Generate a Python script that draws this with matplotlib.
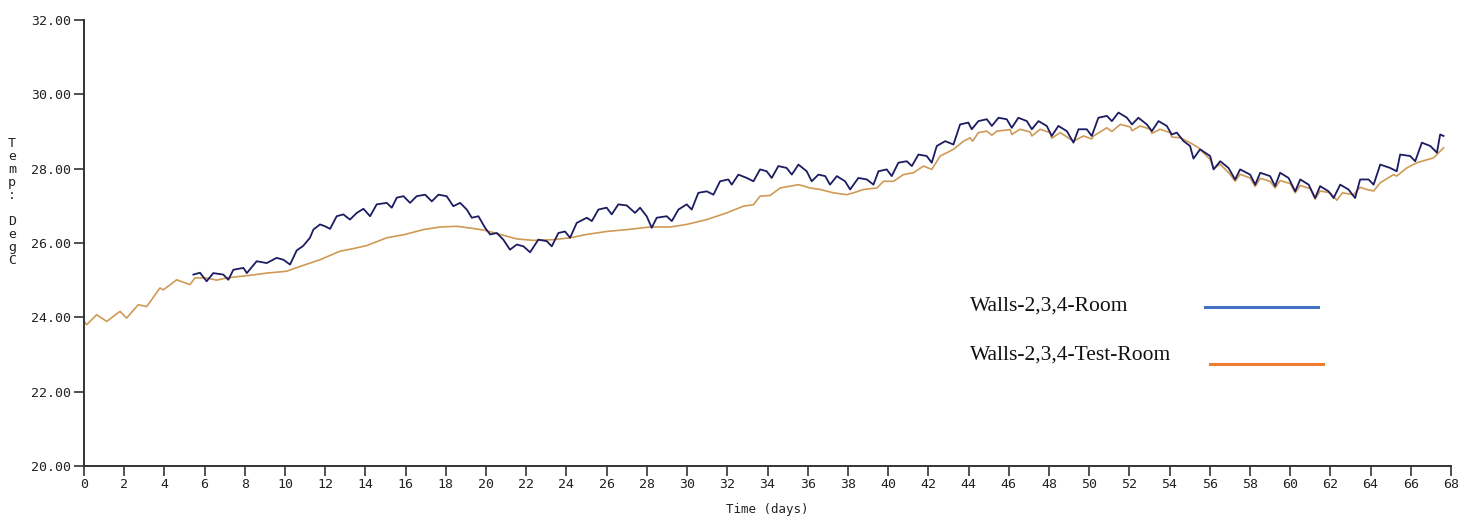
#!/usr/bin/env python3
"""Room air temperature over 68 days for two wall configurations."""

import matplotlib
matplotlib.use("Agg")
import matplotlib.pyplot as plt
from matplotlib.lines import Line2D

# Walls-2,3,4 room (logged from about day 5.4 onwards)
room_days = [
    5.44, 5.77, 6.10, 6.43, 6.93, 7.18, 7.43, 7.93, 8.10, 8.59, 9.09, 9.58, 9.92,
    10.25, 10.58, 10.90, 11.24, 11.41, 11.74, 11.99, 12.24, 12.57, 12.90, 13.23,
    13.57, 13.90, 14.23, 14.56, 15.06, 15.31, 15.56, 15.89, 16.22, 16.55, 16.97,
    17.30, 17.63, 18.04, 18.37, 18.71, 19.04, 19.29, 19.62, 19.95, 20.20, 20.53,
    20.86, 21.19, 21.53, 21.86, 22.19, 22.60, 23.02, 23.27, 23.60, 23.93, 24.18,
    24.51, 25.01, 25.26, 25.59, 26.00, 26.25, 26.58, 27.00, 27.41, 27.66, 27.99,
    28.24, 28.49, 28.99, 29.24, 29.57, 29.98, 30.23, 30.56, 30.98, 31.31, 31.64,
    32.05, 32.22, 32.55, 32.97, 33.30, 33.63, 33.96, 34.21, 34.54, 34.95, 35.21,
    35.54, 35.95, 36.20, 36.53, 36.87, 37.11, 37.45, 37.86, 38.11, 38.52, 38.94,
    39.27, 39.52, 39.93, 40.18, 40.51, 40.93, 41.18, 41.51, 41.92, 42.17, 42.42,
    42.84, 43.25, 43.58, 43.99, 44.16, 44.49, 44.91, 45.16, 45.49, 45.90, 46.15,
    46.48, 46.90, 47.15, 47.48, 47.89, 48.14, 48.47, 48.89, 49.22, 49.47, 49.88,
    50.13, 50.46, 50.88, 51.13, 51.46, 51.88, 52.13, 52.45, 52.87, 53.12, 53.45,
    53.86, 54.11, 54.36, 54.70, 55.02, 55.19, 55.52, 56.02, 56.19, 56.52, 56.93,
    57.26, 57.51, 58.01, 58.26, 58.51, 59.00, 59.25, 59.50, 59.92, 60.25, 60.50,
    60.92, 61.24, 61.49, 61.91, 62.16, 62.49, 62.90, 63.23, 63.48, 63.90, 64.15,
    64.48, 64.97, 65.30, 65.47, 65.97, 66.22, 66.55, 66.97, 67.30, 67.46, 67.63,
]
room_temp = [
    25.15, 25.20, 24.97, 25.19, 25.15, 25.01, 25.28, 25.33, 25.19, 25.51, 25.46, 25.60, 25.55,
    25.42, 25.80, 25.92, 26.14, 26.36, 26.50, 26.45, 26.38, 26.72, 26.77, 26.63,
    26.81, 26.92, 26.72, 27.04, 27.08, 26.95, 27.22, 27.26, 27.08, 27.26, 27.30,
    27.12, 27.30, 27.26, 26.99, 27.08, 26.90, 26.68, 26.72, 26.41, 26.23, 26.27,
    26.09, 25.82, 25.96, 25.91, 25.75, 26.09, 26.05, 25.91, 26.27, 26.31, 26.14,
    26.54, 26.68, 26.59, 26.90, 26.95, 26.77, 27.04, 27.01, 26.81, 26.95, 26.72,
    26.41, 26.68, 26.72, 26.59, 26.90, 27.04, 26.90, 27.35, 27.39, 27.30, 27.66,
    27.71, 27.57, 27.84, 27.75, 27.66, 27.98, 27.93, 27.75, 28.07, 28.02, 27.84,
    28.11, 27.93, 27.66, 27.84, 27.80, 27.57, 27.80, 27.66, 27.44, 27.75, 27.71,
    27.57, 27.93, 27.98, 27.80, 28.16, 28.20, 28.07, 28.38, 28.34, 28.16, 28.61,
    28.74, 28.65, 29.19, 29.24, 29.06, 29.28, 29.33, 29.15, 29.37, 29.33, 29.10,
    29.37, 29.28, 29.06, 29.28, 29.15, 28.88, 29.15, 29.01, 28.70, 29.06, 29.06,
    28.88, 29.37, 29.42, 29.28, 29.51, 29.37, 29.19, 29.37, 29.19, 29.01, 29.28,
    29.15, 28.92, 28.97, 28.74, 28.61, 28.27, 28.52, 28.34, 27.98, 28.20, 28.02,
    27.71, 27.98, 27.84, 27.57, 27.89, 27.80, 27.53, 27.89, 27.75, 27.39, 27.71,
    27.57, 27.21, 27.53, 27.39, 27.21, 27.57, 27.44, 27.21, 27.71, 27.71, 27.57,
    28.11, 28.02, 27.93, 28.38, 28.34, 28.20, 28.70, 28.61, 28.43, 28.92, 28.88,
]

# Walls-2,3,4 test room
test_days = [
    0.00, 0.13, 0.63, 1.13, 1.79, 2.12, 2.70, 3.12, 3.78, 3.95, 4.61, 5.27, 5.52,
    6.10, 6.60, 7.10, 7.76, 8.40, 9.09, 10.08, 10.75, 11.74, 12.74, 13.40, 14.06,
    15.06, 15.97, 16.88, 17.71, 18.54, 19.37, 19.95, 20.70, 21.53, 22.35, 23.35,
    24.18, 25.00, 26.00, 27.00, 28.16, 29.16, 29.98, 30.98, 31.97, 32.80, 33.30,
    33.63, 34.13, 34.63, 35.54, 36.12, 36.62, 37.28, 37.94, 38.28, 38.77, 39.44,
    39.77, 40.27, 40.76, 41.26, 41.76, 42.17, 42.59, 43.25, 43.75, 44.08, 44.20,
    44.49, 44.91, 45.16, 45.41, 46.07, 46.15, 46.56, 47.06, 47.15, 47.56, 48.06,
    48.14, 48.56, 49.22, 49.72, 50.13, 50.22, 50.88, 51.13, 51.55, 52.05, 52.13,
    52.54, 53.04, 53.12, 53.53, 54.03, 54.11, 54.53, 55.02, 55.44, 56.02, 56.19,
    56.52, 57.01, 57.26, 57.51, 58.01, 58.26, 58.51, 59.00, 59.25, 59.50, 60.00,
    60.25, 60.50, 61.00, 61.24, 61.49, 61.99, 62.32, 62.60, 63.15, 63.48, 63.81,
    64.15, 64.48, 65.14, 65.30, 65.80, 66.30, 67.13, 67.63,
]
test_temp = [
    23.90, 23.80, 24.07, 23.89, 24.16, 23.98, 24.34, 24.29, 24.79, 24.74, 25.01, 24.88, 25.06,
    25.06, 25.00, 25.06, 25.10, 25.14, 25.19, 25.24, 25.37, 25.55, 25.78, 25.85, 25.93,
    26.14, 26.23, 26.36, 26.43, 26.45, 26.39, 26.34, 26.23, 26.11, 26.07, 26.09,
    26.14, 26.23, 26.31, 26.36, 26.43, 26.43, 26.50, 26.63, 26.81, 26.99, 27.03,
    27.26, 27.28, 27.48, 27.57, 27.48, 27.44, 27.35, 27.30, 27.35, 27.44, 27.48,
    27.66, 27.66, 27.84, 27.89, 28.07, 27.98, 28.34, 28.52, 28.74, 28.83, 28.74,
    28.97, 29.01, 28.90, 29.01, 29.05, 28.92, 29.06, 28.99, 28.88, 29.06, 28.97,
    28.82, 28.97, 28.74, 28.88, 28.80, 28.88, 29.10, 29.00, 29.19, 29.12, 29.02,
    29.15, 29.06, 28.95, 29.06, 28.97, 28.85, 28.83, 28.70, 28.56, 28.25, 28.00,
    28.12, 27.85, 27.66, 27.85, 27.75, 27.52, 27.74, 27.66, 27.48, 27.68, 27.60,
    27.35, 27.55, 27.46, 27.18, 27.40, 27.35, 27.15, 27.35, 27.30, 27.50, 27.44,
    27.40, 27.62, 27.84, 27.80, 28.02, 28.16, 28.29, 28.56,
]

x_ticks = list(range(0, 69, 2))
y_ticks = [20, 22, 24, 26, 28, 30, 32]
series_names = ["Walls-2,3,4-Room", "Walls-2,3,4-Test-Room"]

MONO = "DejaVu Sans Mono"
INK = "#333333"


def draw_key(fig):
    """Hand-placed key: serif label followed by a short coloured bar."""
    key_colors = ["#4472c4", "#ed7d31"]
    rows = [(306, 307, 1205, 1318), (355, 364, 1210, 1323)]
    W, H = fig.get_size_inches() * fig.dpi
    for name, color, (ty, ly, x0, x1) in zip(series_names, key_colors, rows):
        fig.text(970 / W, 1 - ty / H, name, family="Liberation Serif",
                 fontsize=15.5, va="center", ha="left", color="#111111")
        fig.add_artist(Line2D([x0 / W, x1 / W], [1 - ly / H, 1 - ly / H],
                              transform=fig.transFigure, color=color, lw=2.2))


def main() -> None:
    fig = plt.figure(figsize=(14.74, 5.28), dpi=100)
    ax = fig.add_axes([84 / 1474, 62 / 528, (1451 - 84) / 1474, (466 - 20) / 528])

    ax.plot(test_days, test_temp, color="#cf9a55", lw=1.2)
    ax.plot(room_days, room_temp, color="#1c1c62", lw=1.3)

    ax.set_xlim(0, 68)
    ax.set_ylim(20, 32)
    ax.set_xticks(x_ticks)
    ax.set_yticks(y_ticks)
    ax.set_xticklabels([str(d) for d in x_ticks], family=MONO, fontsize=9.5, color="#222222")
    ax.set_yticklabels([f"{v:.2f}" for v in y_ticks], family=MONO, fontsize=9.5, color="#222222")
    ax.tick_params(axis="both", direction="out", length=7, width=1.2, color=INK, pad=2)

    for side in ("top", "right"):
        ax.spines[side].set_visible(False)
    for side in ("left", "bottom"):
        ax.spines[side].set_color(INK)
        ax.spines[side].set_linewidth(1.4)

    ax.set_xlabel("Time (days)", family=MONO, fontsize=9, color="#222222", labelpad=8)
    fig.text(12 / 1474, 1 - 202 / 528, "\n".join("Temp: DegC"), family=MONO,
             fontsize=9.5, color="#222222", ha="center", va="center", linespacing=1.0)

    draw_key(fig)
    fig.savefig("out.png", dpi=100)


if __name__ == "__main__":
    main()
